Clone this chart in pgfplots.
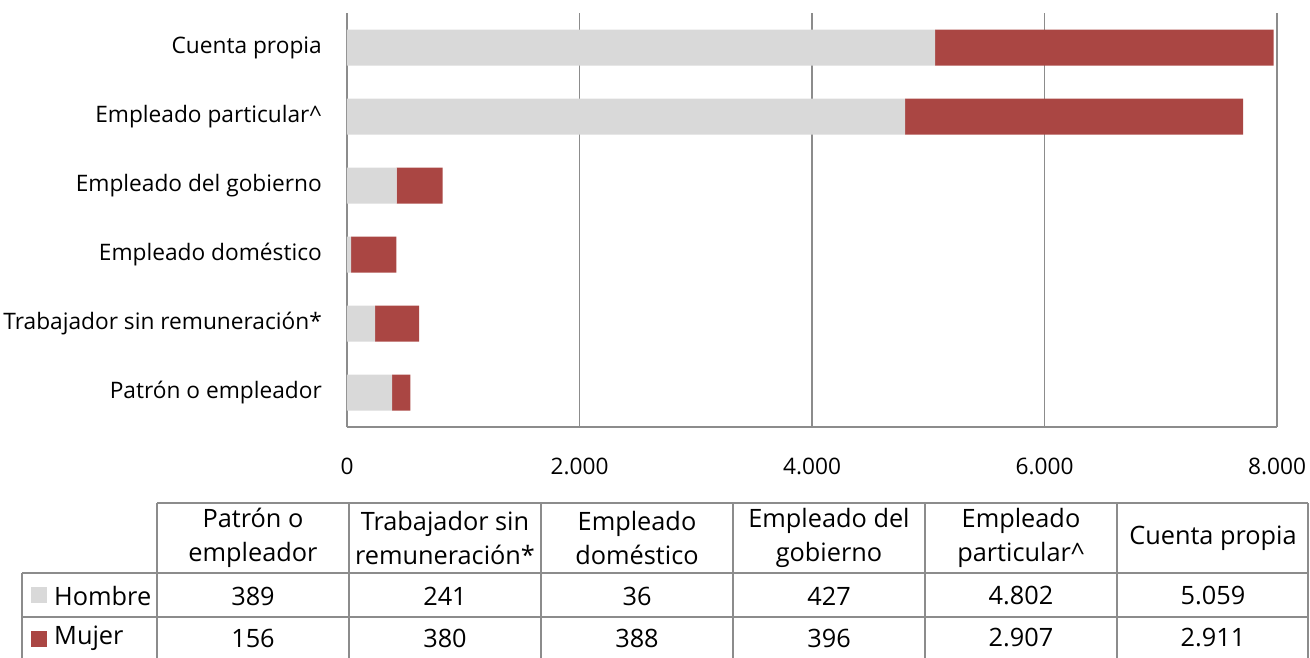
\documentclass[border=0pt]{standalone}
\usepackage{fontspec}
\setmainfont{Open Sans}
\usepackage{pgfplots}
\pgfplotsset{compat=1.18}
\definecolor{gbar}{HTML}{D9D9D9}
\definecolor{rbar}{HTML}{AA4643}
\definecolor{lin}{HTML}{8C8C8C}
\begin{document}
\fontsize{22.7}{34}\selectfont
\begin{tikzpicture}[x=1pt,y=1pt]
\path[use as bounding box] (0,0) rectangle (1310,-658);
\begin{axis}[
  at={(347pt,-427pt)}, anchor=south west,
  scale only axis, width=930pt, height=414pt,
  xbar stacked, bar width=36pt,
  xmin=0, xmax=8000, ymin=-0.5, ymax=5.5,
  axis lines*=left,
  axis line style={lin, line width=1.5pt, -},
  xmajorgrids, grid style={lin, line width=1.5pt},
  xtick={0,2000,4000,6000,8000},
  xticklabels={0,2.000,4.000,6.000,8.000},
  ytick={0,1,2,3,4,5},
  yticklabels={Patrón o empleador, Trabajador sin remuneración*, Empleado doméstico, Empleado del gobierno, Empleado particular\textasciicircum, Cuenta propia},
  major tick length=0pt,
  tick style={draw=none},
  xticklabel style={anchor=center, inner sep=0pt, yshift=-39pt},
  yticklabel style={anchor=east, inner sep=0pt, xshift=-25pt},
]
\addplot[fill=gbar, draw=none] coordinates {(389,0) (241,1) (36,2) (427,3) (4802,4) (5059,5)};
\addplot[fill=rbar, draw=none] coordinates {(156,0) (380,1) (388,2) (396,3) (2907,4) (2911,5)};
\end{axis}
\begin{scope}[lin, line width=1.5pt]
\draw (157,-503) -- (1308,-503);
\draw (22,-573) -- (1308,-573);
\draw (22,-617) -- (1308,-617);
\draw (22,-573) -- (22,-665);
\foreach \xx in {157,349,541,733,925,1117,1308} {\draw (\xx,-503) -- (\xx,-665);}
\end{scope}
\begin{scope}[every node/.style={align=center, inner sep=0pt, text=black, font=\fontsize{25.3}{34}\selectfont}]
\node at (253,-538) {Patrón o\\empleador};
\node at (445,-538) {Trabajador sin\\remuneración*};
\node at (637,-538) {Empleado\\doméstico};
\node at (829,-538) {Empleado del\\gobierno};
\node at (1021,-538) {Empleado\\particular\textasciicircum};
\node at (1213,-538) {Cuenta propia};
\node[anchor=west] at (54,-596) {Hombre};
\node[anchor=west] at (54,-638) {Mujer};
\foreach \xx/\v in {253/389,445/241,637/36,829/427,1021/4.802,1213/5.059} {\node at (\xx,-596) {\v};}
\foreach \xx/\v in {253/156,445/380,637/388,829/396,1021/2.907,1213/2.911} {\node at (\xx,-638) {\v};}
\end{scope}
\fill[gbar] (31,-587) rectangle (47,-603);
\fill[rbar] (31,-631) rectangle (47,-647);
\end{tikzpicture}
\end{document}
